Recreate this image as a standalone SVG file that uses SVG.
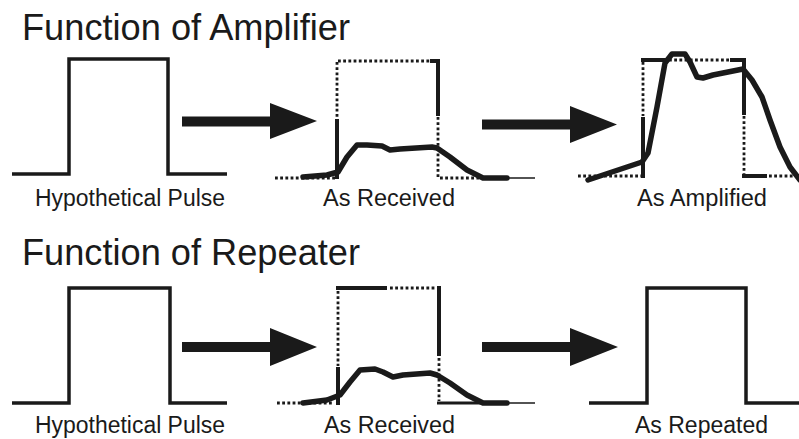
<svg xmlns="http://www.w3.org/2000/svg" width="799" height="439" viewBox="0 0 799 439">
<style>
.title{font-family:"Liberation Sans",Arial,sans-serif;font-size:36px;fill:#1a1a1a}
.lbl{font-family:"Liberation Sans",Arial,sans-serif;font-size:23px;fill:#1a1a1a}
.pulse{fill:none;stroke:#1a1a1a;stroke-width:3.5;stroke-linejoin:miter;stroke-linecap:butt}
.dot{fill:none;stroke:#1a1a1a;stroke-width:2.8;stroke-dasharray:2.8 2.4}
.solid{fill:none;stroke:#1a1a1a;stroke-width:4;stroke-linecap:butt}
.curve{fill:none;stroke:#1a1a1a;stroke-width:5.5;stroke-linejoin:round;stroke-linecap:round}
.thin{fill:none;stroke:#1a1a1a;stroke-width:1.5}
.med{fill:none;stroke:#1a1a1a;stroke-width:3}
.arrow{fill:#1a1a1a;stroke:none}
</style>
<rect width="799" height="439" fill="#ffffff"/>

<g id="title-amplifier">
<text class="title" x="22" y="40" textLength="328" lengthAdjust="spacingAndGlyphs">Function of Amplifier</text>
</g>
<g id="title-repeater">
<text class="title" x="22" y="265" textLength="338" lengthAdjust="spacingAndGlyphs">Function of Repeater</text>
</g>

<g id="amp-hypothetical">
<path class="pulse" d="M12,174 H69 V59 H168 V174 H227"/>
<text class="lbl" x="35" y="206" textLength="190" lengthAdjust="spacingAndGlyphs">Hypothetical Pulse</text>
</g>

<g id="amp-received">
<path class="dot" d="M275,178 H336"/>
<path class="dot" d="M337,62 V117"/>
<path class="solid" d="M337,119 V179"/>
<path class="dot" d="M338,61 H431"/>
<path class="solid" d="M430,61 H440 M438,59 V116"/>
<path class="dot" d="M438,117 V178"/>
<path class="dot" d="M440,178 H483"/>
<path class="curve" d="M303,177 L327,175 L338,172 L347,157 L357,145 L367,145 L382,146 L390,150 L400,149 L432,147 L437,148 L450,157 L467,170 L483,178 L507,178"/>
<path class="thin" d="M507,178 H535"/>
<text class="lbl" x="323" y="206" textLength="132" lengthAdjust="spacingAndGlyphs">As Received</text>
</g>

<g id="amp-amplified">
<path class="dot" d="M578,176 H641"/>
<path class="dot" d="M643,62 V116"/>
<path class="solid" d="M643,117 V178"/>
<path class="solid" d="M641,60 H667"/>
<path class="dot" d="M669,60 H730"/>
<path class="solid" d="M730,60 H746 M744,58 V115"/>
<path class="dot" d="M744,116 V175"/>
<path class="solid" d="M742,176 H767"/>
<path class="dot" d="M769,176 H799"/>
<path class="curve" d="M588,180 L642,162 L648,153 L657,107 L665,63 L672,54 L685,54 L690,62 L697,77 L703,78 L713,75 L743,69 L752,80 L762,97 L770,120 L780,147 L790,167 L800,180"/>
<text class="lbl" x="637" y="206" textLength="130" lengthAdjust="spacingAndGlyphs">As Amplified</text>
</g>

<g id="rep-hypothetical">
<path class="pulse" d="M12,403 H69 V288 H170 V403 H227"/>
<text class="lbl" x="35" y="433" textLength="190" lengthAdjust="spacingAndGlyphs">Hypothetical Pulse</text>
</g>

<g id="rep-received">
<path class="dot" d="M277,403 H334"/>
<path class="dot" d="M338,291 V366"/>
<path class="solid" d="M338,367 V405"/>
<path class="solid" d="M336,288 H387"/>
<path class="dot" d="M390,288 H436"/>
<path class="solid" d="M439,286 V356"/>
<path class="dot" d="M439,358 V401"/>
<path class="med" d="M437,403 H483"/>
<path class="curve" d="M303,403 L327,400 L340,395 L350,382 L360,370 L375,369 L383,372 L393,377 L403,375 L430,373 L437,375 L450,383 L467,395 L483,403 L507,403"/>
<path class="thin" d="M507,403 H535"/>
<text class="lbl" x="324" y="433" textLength="131" lengthAdjust="spacingAndGlyphs">As Received</text>
</g>

<g id="rep-repeated">
<path class="pulse" d="M589,403 H647 V288 H746 V403 H799"/>
<text class="lbl" x="635" y="433" textLength="133" lengthAdjust="spacingAndGlyphs">As Repeated</text>
</g>

<g id="connectors">
<path class="arrow" d="M182,116.5 H270 V103 L317,121 L270,139 V126.5 H182 Z"/>
<path class="arrow" d="M482,119.5 H570 V106 L617,124.5 L570,143 V129.5 H482 Z"/>
<path class="arrow" d="M182,342 H270 V328 L317,347 L270,366 V352 H182 Z"/>
<path class="arrow" d="M482,342 H570 V328 L618,347 L570,366 V352 H482 Z"/>
</g>
</svg>
